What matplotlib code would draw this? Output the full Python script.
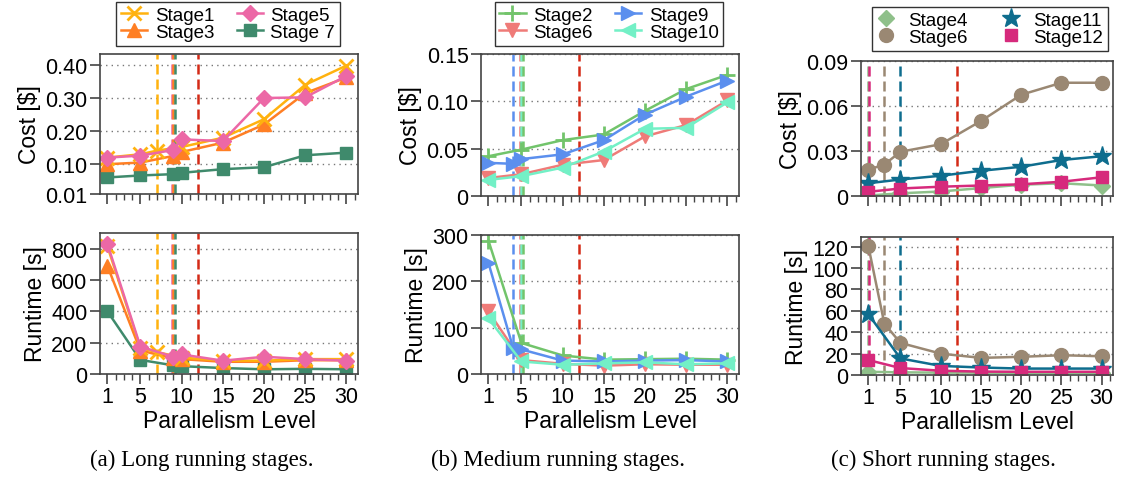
import matplotlib
matplotlib.use("Agg")
import matplotlib.pyplot as plt
from matplotlib.ticker import MultipleLocator, FixedLocator

plt.rcParams['font.family'] = ['Liberation Sans', 'DejaVu Sans']

# ---- (a) long running stages ----
x_s1 = [1, 5, 7, 10, 15, 20, 25, 30]
cost_s1 = [0.120, 0.130, 0.141, 0.152, 0.180, 0.236, 0.340, 0.398]
time_s1 = [815, 165, 140, 105, 85, 85, 95, 95]

x_s3 = [1, 5, 9, 10, 15, 20, 25, 30]
cost_s3 = [0.100, 0.105, 0.125, 0.137, 0.165, 0.220, 0.315, 0.362]
time_s3 = [690, 150, 100, 95, 78, 78, 88, 88]

x_s5 = [1, 5, 9, 10, 15, 20, 25, 30]
cost_s5 = [0.120, 0.126, 0.143, 0.175, 0.170, 0.300, 0.302, 0.367]
time_s5 = [830, 175, 110, 125, 85, 110, 95, 85]

x_s7 = [1, 5, 9, 10, 15, 20, 25, 30]
cost_s7 = [0.060, 0.066, 0.070, 0.074, 0.085, 0.091, 0.127, 0.135]
time_s7 = [400, 90, 55, 50, 38, 30, 33, 30]

# ---- (b) medium running stages ----
x_s2 = [1, 5, 10, 15, 20, 25, 30]
cost_s2 = [0.042, 0.049, 0.059, 0.065, 0.090, 0.113, 0.128]
time_s2 = [288, 67, 40, 31, 32, 33, 31]

x_s9 = [1, 4, 5, 10, 15, 20, 25, 30]
cost_s9 = [0.035, 0.034, 0.039, 0.044, 0.059, 0.086, 0.105, 0.122]
time_s9 = [240, 56, 53, 29, 27, 29, 30, 27]

x_s6 = [1, 5, 10, 15, 20, 25, 30]
cost_s6 = [0.019, 0.023, 0.033, 0.038, 0.063, 0.075, 0.101]
time_s6 = [135, 30, 22, 18, 21, 20, 20]

x_s10 = [1, 5, 10, 15, 20, 25, 30]
cost_s10 = [0.017, 0.021, 0.030, 0.047, 0.071, 0.072, 0.099]
time_s10 = [120, 27, 20, 23, 25, 21, 23]

# ---- (c) short running stages ----
x_c4 = [1, 5, 10, 15, 20, 25, 30]
cost_c4 = [0.0003, 0.0018, 0.0030, 0.0053, 0.0075, 0.0085, 0.0070]
time_c4 = [3, 2.5, 2.2, 2.2, 2, 2, 2]

x_c6 = [1, 3, 5, 10, 15, 20, 25, 30]
cost_c6 = [0.0175, 0.0210, 0.0295, 0.0345, 0.0500, 0.0675, 0.0755, 0.0755]
time_c6 = [121, 48, 30, 20, 16, 17, 18.5, 17.5]

x_c11 = [1, 5, 10, 15, 20, 25, 30]
cost_c11 = [0.0085, 0.0110, 0.0135, 0.0168, 0.0195, 0.0240, 0.0265]
time_c11 = [57, 15.5, 8.5, 7, 6, 6, 6]

x_c12 = [1, 5, 10, 15, 20, 25, 30]
cost_c12 = [0.0028, 0.0050, 0.0062, 0.0070, 0.0078, 0.0095, 0.0125]
time_c12 = [14, 6.5, 4, 3.2, 3, 3, 3]

# chosen parallelism per stage (dashed markers), plus the shared default
best_a = {'Stage1': 7, 'Stage5': 8.8, 'Stage3': 8.95, 'Stage 7': 9.2}
best_b = {'Stage9': 4, 'Stage6': 4.85, 'Stage10': 5.0, 'Stage2': 5.15}
best_c = {'Stage4': 0.95, 'Stage12': 1.15, 'Stage6': 3, 'Stage11': 5}
default_p = 12

C = {
    'Stage1': '#ffb20f', 'Stage3': '#ff7f24', 'Stage5': '#ec68a6', 'Stage 7': '#3f8a6c',
    'Stage2': '#72c46b', 'Stage6': '#ef7b78', 'Stage9': '#5b8fee', 'Stage10': '#73f0c6',
    'Stage4': '#8fc08a', 'Stage6c': '#9a8873', 'Stage11': '#0e6d8e', 'Stage12': '#d62a7c',
}
RED = '#d42a17'
SPINE = '#444444'

W, H = 1123, 481
fig = plt.figure(figsize=(W / 100, H / 100), dpi=100)


def px_axes(l, t, r, b):
    return fig.add_axes([l / W, 1 - b / H, (r - l) / W, (b - t) / H])


def style(ax, show_x):
    ax.set_xlim(0.1, 31.4)
    ax.xaxis.set_major_locator(FixedLocator([1, 5, 10, 15, 20, 25, 30]))
    ax.xaxis.set_minor_locator(MultipleLocator(1))
    ax.tick_params(axis='both', which='major', labelsize=15.5, length=7,
                   width=1.2, color=SPINE, pad=2)
    ax.tick_params(axis='x', which='minor', length=4, width=1.0, color=SPINE)
    if not show_x:
        ax.tick_params(axis='x', labelbottom=False)
    else:
        ax.set_xlabel('Parallelism Level', fontsize=16.5, labelpad=1)
    ax.grid(axis='y', linestyle=(0, (1, 3)), color='#777777', linewidth=1.0)
    for s in ax.spines.values():
        s.set_color(SPINE)
        s.set_linewidth(1.2)
    ax.set_axisbelow(True)


def vlines(ax, best, colors):
    for name, xv in best.items():
        ax.axvline(xv, color=colors[name], linestyle=(0, (4, 2)), lw=1.8, zorder=1.5)
    ax.axvline(default_p, color=RED, linestyle=(0, (4, 2)), lw=1.8, zorder=1.5)


LW = 1.8

# ---------- panel (a) ----------
axa1 = px_axes(100, 55, 358, 195)
axa2 = px_axes(100, 234, 358, 375)
series_a = [
    ('Stage1', x_s1, cost_s1, time_s1, 'x', 10),
    ('Stage3', x_s3, cost_s3, time_s3, '^', 10),
    ('Stage5', x_s5, cost_s5, time_s5, 'D', 8),
    ('Stage 7', x_s7, cost_s7, time_s7, 's', 9),
]
draw_order = [3, 1, 0, 2]
for i in draw_order:
    name, xs, cs, ts, m, ms = series_a[i]
    kw = dict(color=C[name], marker=m, markersize=ms, lw=LW, markeredgewidth=2 if m == 'x' else 1)
    axa1.plot(xs, cs, label=name, **kw)
    axa2.plot(xs, ts, **kw)
for ax in (axa1, axa2):
    vlines(ax, best_a, C)
axa1.set_ylim(0.01, 0.433)
axa1.set_yticks([0.01, 0.10, 0.20, 0.30, 0.40])
axa1.set_yticklabels(['0.01', '0.10', '0.20', '0.30', '0.40'])
axa1.set_ylabel('Cost [$]', fontsize=16.5, labelpad=3)
axa2.set_ylim(0, 900)
axa2.set_yticks([0, 200, 400, 600, 800])
axa2.set_ylabel('Runtime [s]', fontsize=16.5, labelpad=3)
style(axa1, False)
style(axa2, True)
h, l = axa1.get_legend_handles_labels()
order = [l.index(n) for n in ['Stage1', 'Stage3', 'Stage5', 'Stage 7']]
fig.legend([h[k] for k in order], [l[k] for k in order], ncol=2, loc='upper center',
           bbox_to_anchor=(228 / W, 1 - 3 / H), fontsize=13.5, frameon=True, fancybox=False,
           edgecolor='black', borderpad=0.25, handlelength=1.4, handletextpad=0.4,
           columnspacing=1.2, labelspacing=0.0, borderaxespad=0)

# ---------- panel (b) ----------
axb1 = px_axes(481, 55, 739, 197)
axb2 = px_axes(481, 236, 739, 375)
series_b = [
    ('Stage2', x_s2, cost_s2, time_s2, '+', 12),
    ('Stage6', x_s6, cost_s6, time_s6, 'v', 10),
    ('Stage9', x_s9, cost_s9, time_s9, '>', 10),
    ('Stage10', x_s10, cost_s10, time_s10, '<', 10),
]
for name, xs, cs, ts, m, ms in series_b:
    kw = dict(color=C[name], marker=m, markersize=ms, lw=LW, markeredgewidth=2 if m == '+' else 1)
    axb1.plot(xs, cs, label=name, **kw)
    axb2.plot(xs, ts, **kw)
for ax in (axb1, axb2):
    vlines(ax, best_b, C)
axb1.set_ylim(0, 0.15)
axb1.set_yticks([0, 0.05, 0.10, 0.15])
axb1.set_yticklabels(['0', '0.05', '0.10', '0.15'])
axb1.set_ylabel('Cost [$]', fontsize=16.5, labelpad=3)
axb2.set_ylim(0, 300)
axb2.set_yticks([0, 100, 200, 300])
axb2.set_ylabel('Runtime [s]', fontsize=16.5, labelpad=3)
style(axb1, False)
style(axb2, True)
h, l = axb1.get_legend_handles_labels()
order = [l.index(n) for n in ['Stage2', 'Stage6', 'Stage9', 'Stage10']]
fig.legend([h[k] for k in order], [l[k] for k in order], ncol=2, loc='upper center',
           bbox_to_anchor=(609 / W, 1 - 3 / H), fontsize=13.5, frameon=True, fancybox=False,
           edgecolor='black', borderpad=0.25, handlelength=1.4, handletextpad=0.4,
           columnspacing=1.2, labelspacing=0.0, borderaxespad=0)

# ---------- panel (c) ----------
axc1 = px_axes(861, 62, 1113, 197)
axc2 = px_axes(861, 238, 1113, 376)
series_c = [
    ('Stage4', 'Stage4', x_c4, cost_c4, time_c4, 'D', 8),
    ('Stage6', 'Stage6c', x_c6, cost_c6, time_c6, 'o', 10),
    ('Stage11', 'Stage11', x_c11, cost_c11, time_c11, '*', 14),
    ('Stage12', 'Stage12', x_c12, cost_c12, time_c12, 's', 8),
]
for name, ck, xs, cs, ts, m, ms in series_c:
    kw = dict(color=C[ck], marker=m, markersize=ms, lw=LW)
    axc1.plot(xs, cs, label=name, **kw)
    axc2.plot(xs, ts, **kw)
cmap_c = {'Stage4': C['Stage4'], 'Stage12': C['Stage12'], 'Stage6': C['Stage6c'], 'Stage11': C['Stage11']}
for ax in (axc1, axc2):
    vlines(ax, best_c, cmap_c)
axc1.set_ylim(0, 0.09)
axc1.set_yticks([0, 0.03, 0.06, 0.09])
axc1.set_yticklabels(['0', '0.03', '0.06', '0.09'])
axc1.set_ylabel('Cost [$]', fontsize=16.5, labelpad=3)
axc2.set_ylim(0, 129)
axc2.set_yticks([0, 20, 40, 60, 80, 100, 120])
axc2.set_ylabel('Runtime [s]', fontsize=16.5, labelpad=3)
style(axc1, False)
style(axc2, True)
h, l = axc1.get_legend_handles_labels()
order = [l.index(n) for n in ['Stage4', 'Stage6', 'Stage11', 'Stage12']]
fig.legend([h[k] for k in order], [l[k] for k in order], ncol=2, loc='upper center',
           bbox_to_anchor=(990 / W, 1 - 8 / H), fontsize=13.5, frameon=True, fancybox=False,
           edgecolor='black', borderpad=0.25, handlelength=1.0, handletextpad=0.7,
           columnspacing=1.8, labelspacing=0.0, borderaxespad=0)
for lh in fig.legends[-1].legend_handles:
    lh.set_linestyle('None')

# captions
cap = dict(fontsize=16.5, family=['Liberation Serif', 'DejaVu Serif'], ha='center', va='center')
fig.text(202 / W, 1 - 460 / H, '(a) Long running stages.', **cap)
fig.text(558 / W, 1 - 460 / H, '(b) Medium running stages.', **cap)
fig.text(943 / W, 1 - 460 / H, '(c) Short running stages.', **cap)

fig.savefig('out.png', dpi=100)
